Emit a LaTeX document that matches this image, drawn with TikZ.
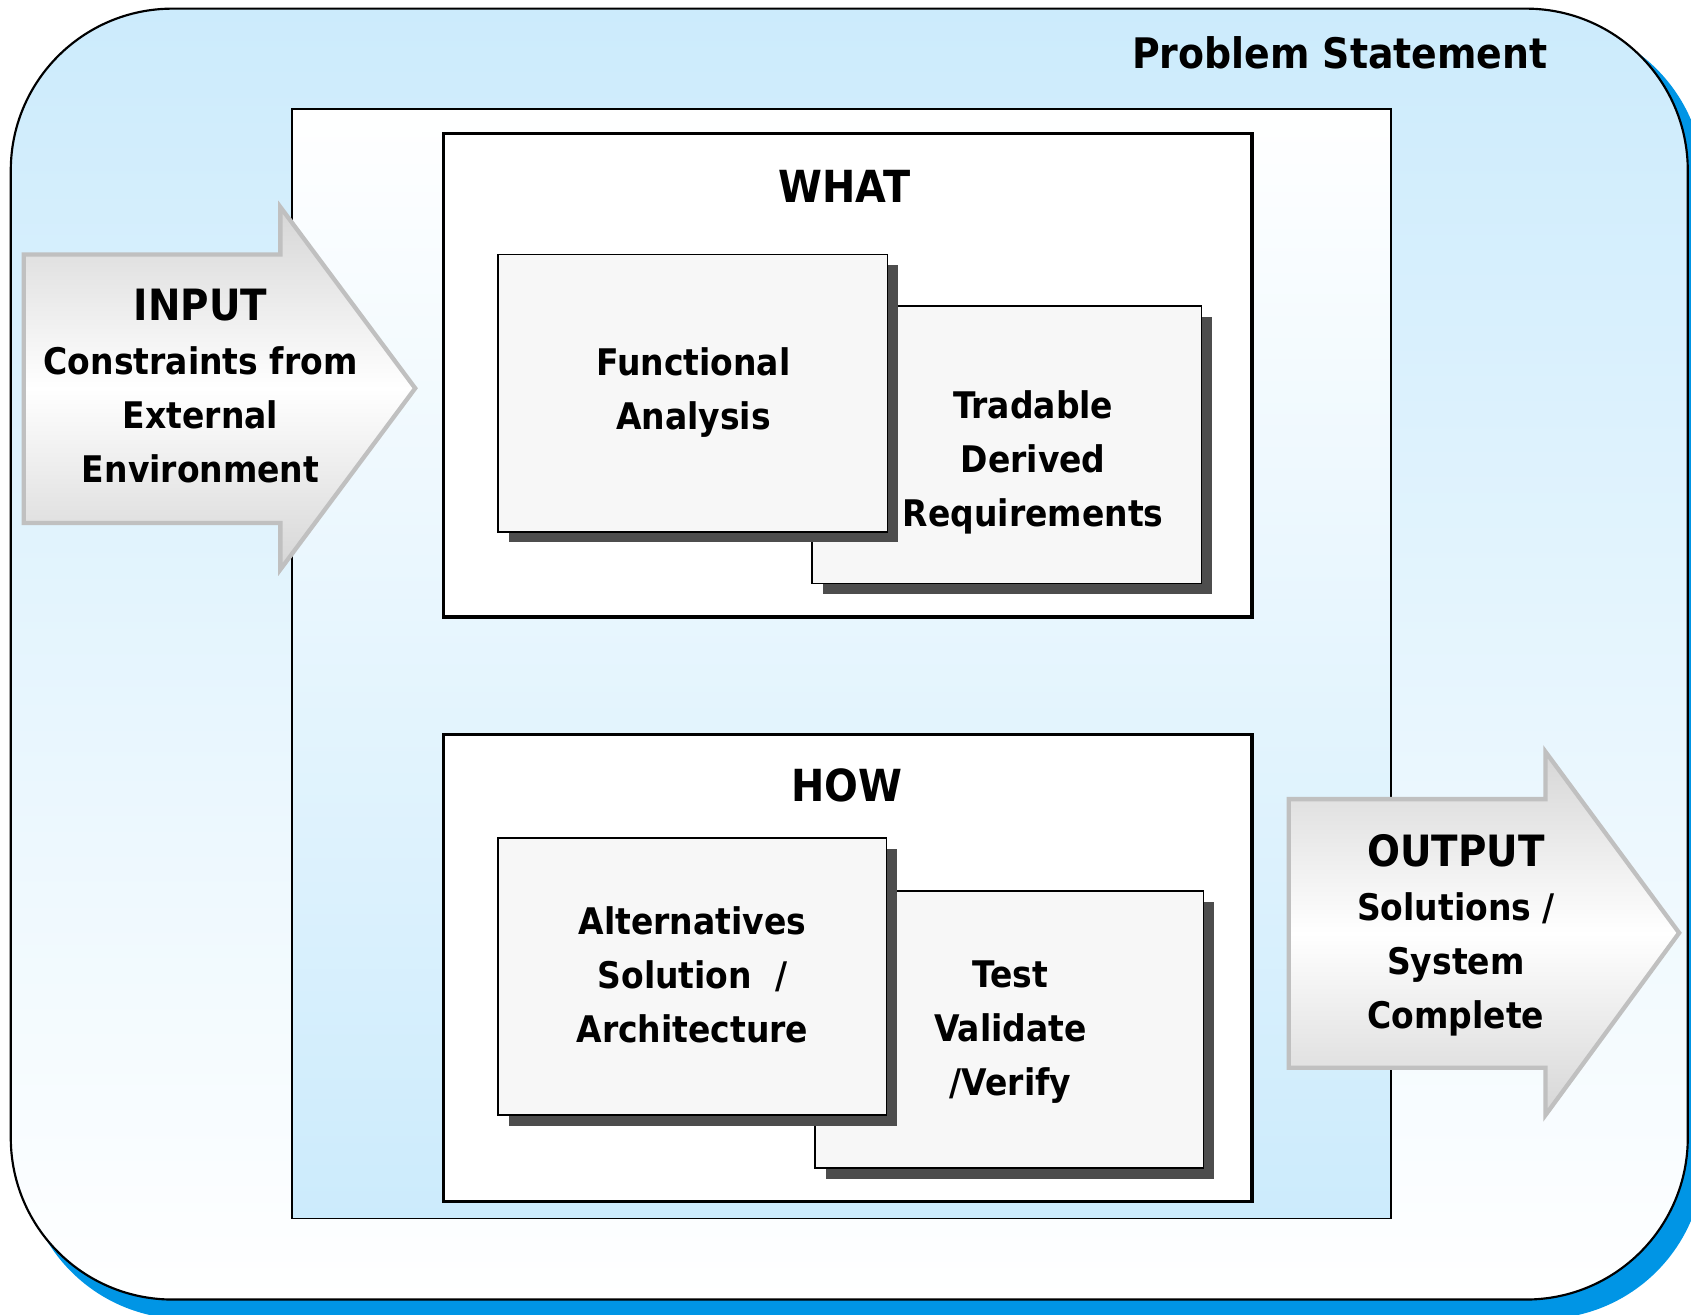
\documentclass[tikz,border=0pt]{standalone}
\usepackage{fontspec}
\setmainfont{DejaVuSansCondensed-Bold.ttf}
\usetikzlibrary{shadows}
\definecolor{skyb}{HTML}{CCEBFC}
\definecolor{shadowblue}{HTML}{0095E5}
\definecolor{boxfill}{HTML}{F7F7F7}
\definecolor{boxshadow}{HTML}{4D4D4D}
\definecolor{arrowgray}{HTML}{C0C0C0}
\definecolor{arrowshade}{HTML}{D6D6D6}
\newcommand\bodyfont{\fontsize{34}{50}\selectfont}
\newcommand\titlefont{\fontsize{41}{50}\selectfont}
\newcommand\arrowtitlefont{\fontsize{40}{50}\selectfont}
\newcommand\psfont{\fontsize{39}{50}\selectfont}
\begin{document}
\begin{tikzpicture}[x=1pt,y=-1pt,
  every node/.style={inner sep=0pt, outer sep=0pt},
  bodytext/.style={font=\bodyfont, align=center, text=black},
  titletext/.style={font=\titlefont, text=black},
  framebox/.style={draw=black, line width=3.2pt, fill=white},
  subbox/.style={draw=black, line width=1.6pt, fill=boxfill,
     drop shadow={shadow xshift=10pt, shadow yshift=-10pt, fill=boxshadow, opacity=1}},
  bigarrow/.style={draw=arrowgray, line width=4pt, line join=miter,
     top color=arrowshade, bottom color=arrowshade, middle color=white}
]
\useasboundingbox (0,0) rectangle (1568,1219);
\clip (0,0) rectangle (1568,1219);
% outer panel
\fill[shadowblue, rounded corners=150pt] (22,20) rectangle (1580,1223);
\draw[line width=2pt, rounded corners=150pt, top color=skyb, bottom color=white]
  (10,8) rectangle (1565,1205);
\node[font=\psfont, anchor=east] (ps) at (1435,49) {Problem Statement};
% inner panel
\draw[line width=1.5pt, top color=white, bottom color=skyb] (271,101) rectangle (1290,1130);
% WHAT frame
\node[framebox, minimum width=750pt, minimum height=448pt] (what) at (786,348) {};
\node[titletext] (whatlbl) at (783,173) {WHAT};
\node[subbox, minimum width=361pt, minimum height=257pt] (tdr) at (933.5,412.5) {};
\node[bodytext] (tdrlbl) at (958,429) {Tradable\\Derived\\Requirements};
\node[subbox, minimum width=361pt, minimum height=257pt] (fa) at (642.5,364.5) {};
\node[bodytext] (falbl) at (643,364) {Functional\\Analysis};
% HOW frame
\node[framebox, minimum width=750pt, minimum height=433pt] (how) at (786,897.5) {};
\node[titletext] (howlbl) at (785,728) {HOW};
\node[subbox, minimum width=360pt, minimum height=257pt] (tvv) at (936,954.5) {};
\node[bodytext] (tvvlbl) at (937,957) {Test\\Validate\\/Verify};
\node[subbox, minimum width=360pt, minimum height=257pt] (alt) at (642,905.5) {};
\node[bodytext] (altlbl) at (642,904) {Alternatives\\Solution~~/\\Architecture};
% INPUT arrow
\draw[bigarrow] (22,236) -- (260,236) -- (260,192) -- (385,360) -- (260,528) -- (260,485) -- (22,485) -- cycle;
\node[bodytext] (inlbl) at (186,358) {{\arrowtitlefont INPUT}\\Constraints from\\External\\Environment};
% OUTPUT arrow
\draw[bigarrow] (1195,741) -- (1433,741) -- (1433,697) -- (1557,865) -- (1433,1034) -- (1433,990) -- (1195,990) -- cycle;
\node[bodytext] (outlbl) at (1350,867) {{\arrowtitlefont OUTPUT}\\Solutions /\\System\\Complete};
\end{tikzpicture}
\end{document}
